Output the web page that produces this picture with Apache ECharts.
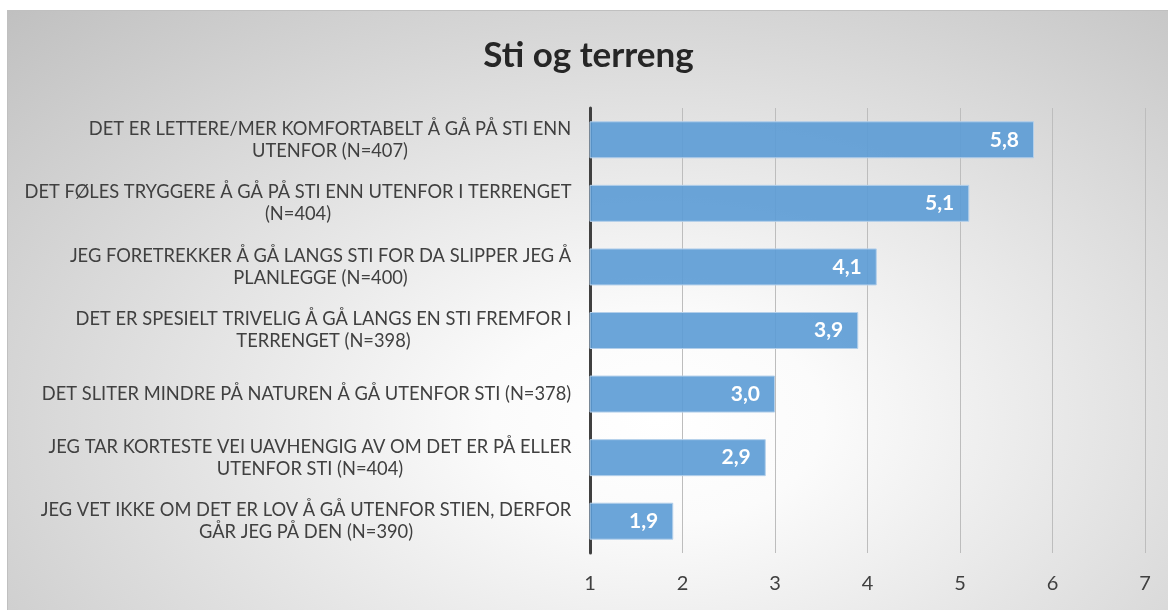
<!DOCTYPE html>
<html>
<head>
<meta charset="utf-8">
<script src="https://cdn.jsdelivr.net/npm/echarts@6/dist/echarts.min.js"></script>
<style>
html, body { margin: 0; padding: 0; background: #fff; }
#chart {
  position: absolute; left: 7px; top: 10px; width: 1161px; height: 600px;
  border-top: 1px solid #c0c0c0; border-left: 1px solid #c0c0c0;
  background: radial-gradient(ellipse at 56% 68%, #ffffff 0%, #fbfbfb 18%, #c0c0c0 100%);
}
</style>
</head>
<body>
<div id="chart"></div>
<script>
var categories = [
  ['DET ER LETTERE/MER KOMFORTABELT Å GÅ PÅ STI ENN', 'UTENFOR (N=407)'],
  ['DET FØLES TRYGGERE Å GÅ PÅ STI ENN UTENFOR I TERRENGET', '(N=404)'],
  ['JEG FORETREKKER Å GÅ LANGS STI FOR DA SLIPPER JEG Å', 'PLANLEGGE (N=400)'],
  ['DET ER SPESIELT TRIVELIG Å GÅ LANGS EN STI FREMFOR I', 'TERRENGET (N=398)'],
  ['DET SLITER MINDRE PÅ NATUREN Å GÅ UTENFOR STI (N=378)'],
  ['JEG TAR KORTESTE VEI UAVHENGIG AV OM DET ER PÅ ELLER', 'UTENFOR STI (N=404)'],
  ['JEG VET IKKE OM DET ER LOV Å GÅ UTENFOR STIEN, DERFOR', 'GÅR JEG PÅ DEN (N=390)']
];
var values = [5.8, 5.1, 4.1, 3.9, 3.0, 2.9, 1.9];
var tickMin = 1, tickMax = 7;

var labelFont = 'Lato';
var labelSize = 18.3;

// each label block is right aligned, its lines centred inside it
var ctx = document.createElement('canvas').getContext('2d');
ctx.font = labelSize + 'px ' + labelFont;
var rich = {};
categories.forEach(function(lines, i) {
  var w = 0;
  lines.forEach(function(l) { w = Math.max(w, ctx.measureText(l).width); });
  rich['c' + i] = {
    width: Math.ceil(w) + 1,
    align: 'center',
    fontFamily: labelFont,
    fontSize: labelSize,
    color: '#404040',
    lineHeight: 22
  };
});

var chart = echarts.init(document.getElementById('chart'));
chart.setOption({
  backgroundColor: 'transparent',
  title: {
    text: 'Sti og terreng',
    left: 'center',
    top: 22,
    padding: [5, 0, 5, 12],
    textStyle: { fontFamily: labelFont, fontSize: 35, fontWeight: 'bold', color: '#262626' }
  },
  grid: { left: 582, right: 24, top: 97, bottom: 58 },
  xAxis: {
    type: 'value',
    min: tickMin,
    max: tickMax,
    interval: 1,
    axisLine: { show: false },
    axisTick: { show: false },
    axisLabel: { color: '#404040', fontFamily: labelFont, fontSize: 20, margin: 21 },
    splitLine: { show: true, lineStyle: { color: '#bdbdbd', width: 1 } }
  },
  yAxis: {
    type: 'category',
    inverse: true,
    data: categories.map(function(c, i) { return String(i); }),
    axisLine: { show: true, lineStyle: { color: '#404040', width: 3 } },
    axisTick: { show: false },
    axisLabel: {
      margin: 18,
      formatter: function(v, i) {
        return categories[i].map(function(l) { return '{c' + i + '|' + l + '}'; }).join('\n');
      },
      rich: rich
    }
  },
  series: [{
    type: 'bar',
    data: values,
    barWidth: 37,
    itemStyle: { color: 'rgba(91,155,213,0.9)', borderColor: '#b3cfea', borderWidth: 1 },
    label: {
      show: true,
      position: 'insideRight',
      distance: 15,
      color: '#fff',
      fontFamily: labelFont,
      fontSize: 21,
      fontWeight: 'bold',
      formatter: function(p) { return p.value.toFixed(1).replace('.', ','); }
    }
  }]
});
</script>
</body>
</html>
